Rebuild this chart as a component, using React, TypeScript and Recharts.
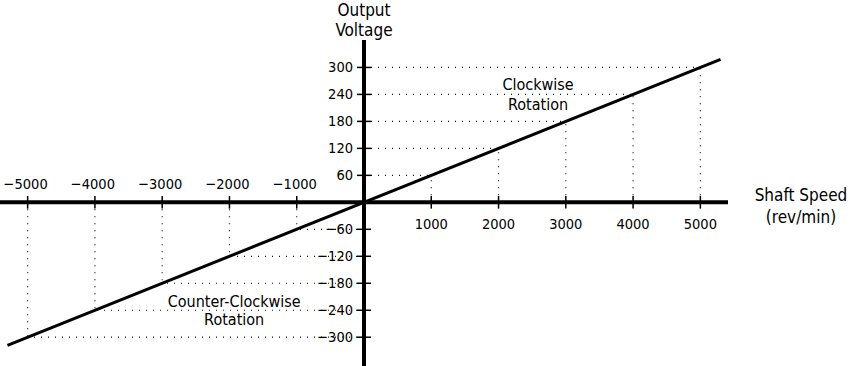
import React from 'react';
import { LineChart, Line, XAxis, YAxis, ReferenceLine, ReferenceDot } from 'recharts';

// shaft speed (rev/min) vs output voltage, through the origin
const lineSpeed = [-5300, 5300];
const lineVolt = [-318, 318];

const speedTicks = [-5000, -4000, -3000, -2000, -1000, 1000, 2000, 3000, 4000, 5000];
const voltTicks = [-300, -240, -180, -120, -60, 60, 120, 180, 240, 300];

const speedLabels = ['−5000', '−4000', '−3000', '−2000', '−1000', '1000', '2000', '3000', '4000', '5000'];
const voltLabels = ['−300', '−240', '−180', '−120', '−60', '60', '120', '180', '240', '300'];

const FONT = "'Liberation Sans Narrow', 'DejaVu Sans Condensed', 'Liberation Sans', sans-serif";

const data = lineSpeed.map((s, i) => ({ speed: s, volt: lineVolt[i] }));

const textAt = (lines: string[], dx: number, dy: number, anchor: string, size: number, lineH: number) =>
  (props: any) => {
    const vb = props.viewBox || { x: 0, y: 0, width: 0, height: 0 };
    const cx = vb.x + (vb.width || 0) / 2 + dx;
    const cy = vb.y + (vb.height || 0) / 2 + dy - ((lines.length - 1) * lineH) / 2;
    return (
      <text x={cx} y={cy} textAnchor={anchor as any} dominantBaseline="central" fontSize={size} fontFamily={FONT} fill="#000">
        {lines.map((l, i) => (
          <tspan key={i} x={cx} dy={i === 0 ? 0 : lineH}>{l}</tspan>
        ))}
      </text>
    );
  };

const dotted = { stroke: '#111', strokeWidth: 1.2, strokeDasharray: '1 6' };

const App: React.FC = () => {
  return (
    <div style={{ position: 'absolute', left: 0, top: 0 }}>
      <LineChart width={851} height={366} data={data} margin={{ top: 40, right: 123, left: 0, bottom: 0 }}>
        <XAxis dataKey="speed" type="number" domain={[-5411, 5411]} hide />
        <YAxis type="number" domain={[-364, 361]} hide />

        {speedTicks.map((s, i) => (
          <ReferenceLine key={'gv' + s} segment={[{ x: s, y: 0 }, { x: s, y: voltTicks[i] }]} {...dotted} />
        ))}
        {voltTicks.map((v, i) => (
          <ReferenceLine key={'gh' + v} segment={[{ x: 0, y: v }, { x: speedTicks[i], y: v }]} {...dotted} />
        ))}

        <ReferenceLine y={0} stroke="#000" strokeWidth={4} />
        <ReferenceLine x={0} stroke="#000" strokeWidth={4} />

        {speedTicks.map((s) => (
          <ReferenceLine key={'tx' + s} segment={[{ x: s, y: -14 }, { x: s, y: 14 }]} stroke="#000" strokeWidth={1.5} />
        ))}
        {voltTicks.map((v) => (
          <ReferenceLine key={'ty' + v} segment={[{ x: -105, y: v }, { x: 105, y: v }]} stroke="#000" strokeWidth={1.5} />
        ))}

        {speedTicks.map((s, i) => (
          <ReferenceDot key={'lx' + s} x={s} y={0} r={0} ifOverflow="visible"
            label={textAt([speedLabels[i]], s < 0 ? -2 : 0, s < 0 ? -18 : 22, 'middle', 14.5, 0)} />
        ))}
        {voltTicks.map((v, i) => (
          <ReferenceDot key={'ly' + v} x={0} y={v} r={0} ifOverflow="visible"
            label={textAt([voltLabels[i]], -11, 0, 'end', 14.5, 0)} />
        ))}

        <ReferenceDot x={0} y={405} r={0} ifOverflow="visible" label={textAt(['Output', 'Voltage'], 0, 0, 'middle', 17, 20)} />
        <ReferenceDot x={6496} y={-8} r={0} ifOverflow="visible" label={textAt(['Shaft  Speed', '(rev/min)'], 0, 0, 'middle', 17, 22)} />
        <ReferenceDot x={2587} y={241} r={0} ifOverflow="visible" label={textAt(['Clockwise', 'Rotation'], 0, 0, 'middle', 16, 20)} />
        <ReferenceDot x={-1930} y={-240} r={0} ifOverflow="visible" label={textAt(['Counter-Clockwise', 'Rotation'], 0, 0, 'middle', 16, 18)} />

        <Line dataKey="volt" type="linear" dot={false} stroke="#000" strokeWidth={3} isAnimationActive={false} />
      </LineChart>
    </div>
  );
};

export default App;
